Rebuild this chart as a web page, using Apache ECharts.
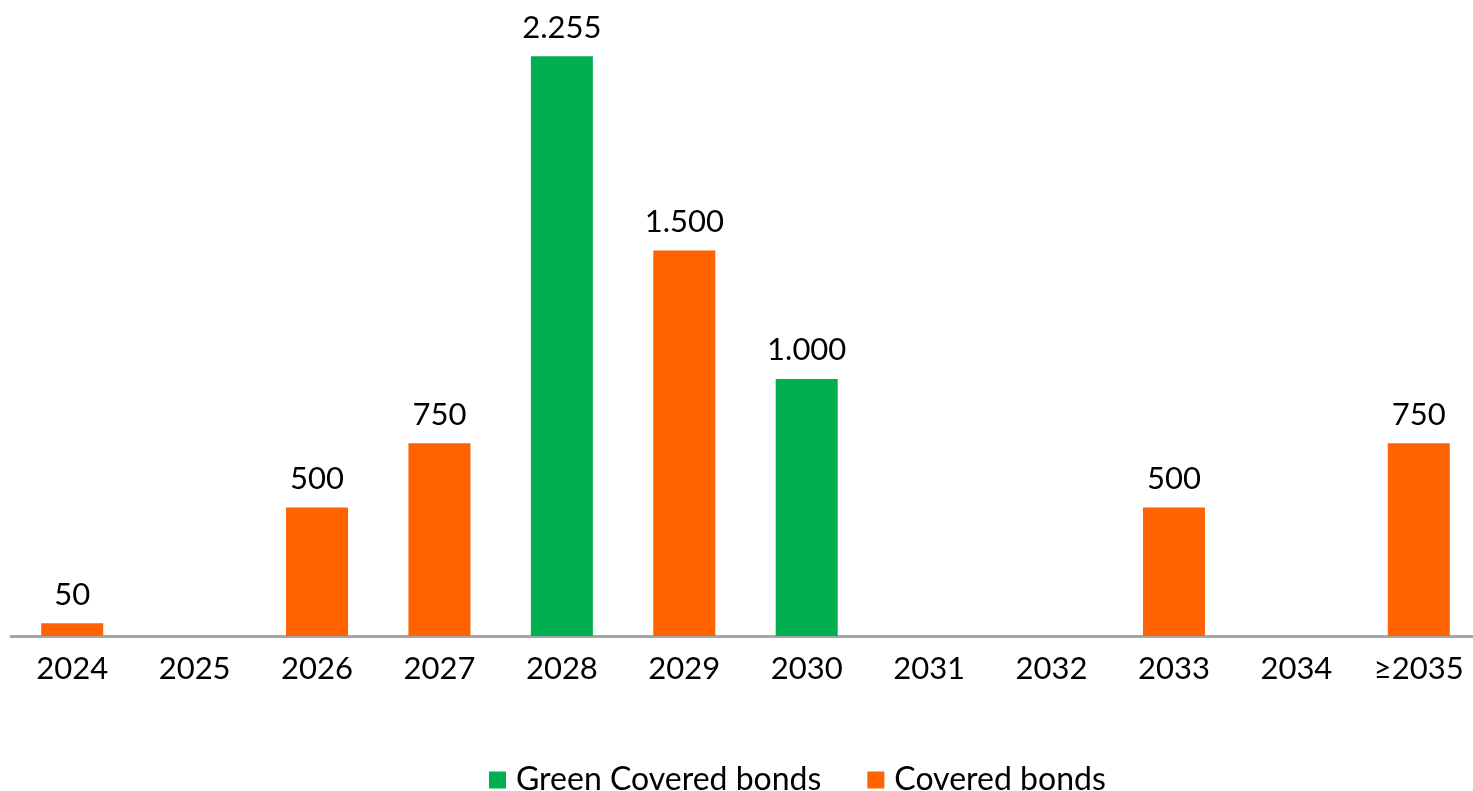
<!DOCTYPE html>
<html>
<head>
<meta charset="utf-8">
<script src="https://cdn.jsdelivr.net/npm/echarts@6/dist/echarts.min.js"></script>
<style>
  html, body { margin: 0; padding: 0; background: #fff; }
  #chart { width: 1473px; height: 791px; }
</style>
</head>
<body>
<div id="chart"></div>
<script>
// Maturity profile of covered bond issuance (EUR m)
const years = ['2024', '2025', '2026', '2027', '2028', '2029', '2030', '2031', '2032', '2033', '2034', '≥2035'];
const greenCovered = [null, null, null, null, 2255, null, 1000, null, null, null, null, null];
const covered = [50, null, 500, 750, null, 1500, null, null, null, 500, null, 750];

const FONT = 'Lato, "Open Sans", sans-serif';

// European thousands separator: 2255 -> "2.255"
function fmt(v) {
  return String(v).replace(/\B(?=(\d{3})+(?!\d))/g, '.');
}

const chart = echarts.init(document.getElementById('chart'));
const labelStyle = {
  show: true,
  position: 'top',
  distance: 13,
  color: '#000',
  fontFamily: FONT,
  fontSize: 31,
  formatter: p => fmt(p.value)
};

chart.setOption({
  animation: false,
  grid: {
    left: 11, width: 1469, top: 19, bottom: 155,
    containLabel: false,
    outerBoundsMode: 'none'
  },
  legend: {
    top: 759,
    left: 484,
    itemWidth: 17,
    itemHeight: 17,
    itemGap: 46,
    icon: 'rect',
    textStyle: { fontFamily: FONT, fontSize: 32, color: '#000', padding: [0, 0, 0, 5] },
    data: ['Green Covered bonds', 'Covered bonds']
  },
  xAxis: {
    type: 'category',
    data: years,
    axisLine: { lineStyle: { color: '#a6a6a6', width: 3 } },
    axisTick: { show: false },
    axisLabel: { color: '#000', fontFamily: FONT, fontSize: 31, margin: 17 }
  },
  yAxis: {
    type: 'value',
    min: 0,
    max: 2400,
    show: false,
    splitLine: { show: false }
  },
  series: [
    {
      name: 'Green Covered bonds',
      type: 'bar',
      stack: 'total',
      barWidth: 62,
      data: greenCovered,
      itemStyle: { color: '#00b050' },
      label: labelStyle
    },
    {
      name: 'Covered bonds',
      type: 'bar',
      stack: 'total',
      barWidth: 62,
      data: covered,
      itemStyle: { color: '#ff6200' },
      label: labelStyle
    }
  ]
});
</script>
</body>
</html>
